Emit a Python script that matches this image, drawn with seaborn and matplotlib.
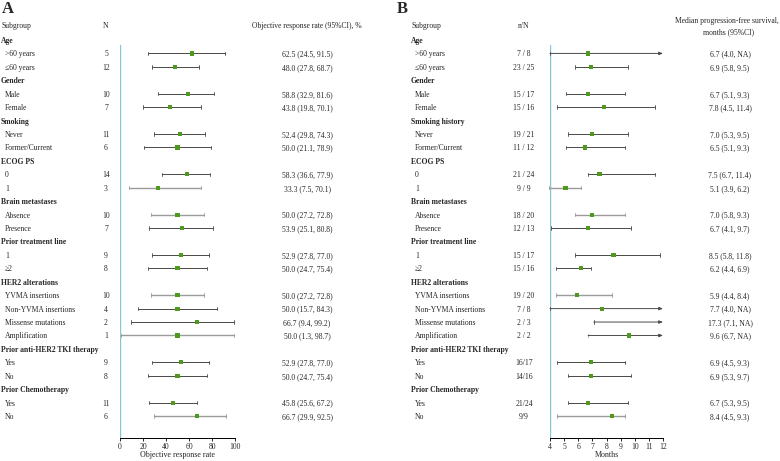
import numpy as np
import pandas as pd
import matplotlib
matplotlib.use("Agg")
import matplotlib.pyplot as plt
import matplotlib.transforms as mtrans
import seaborn as sns

sns.set_style("white")
plt.rcParams['font.family'] = ['Liberation Serif', 'DejaVu Serif']

NA = np.nan

labels_A = ["Age", ">60 years", "≤60 years", "Gender", "Male", "Female", "Smoking", "Never",
            "Former/Current", "ECOG PS", "0", "1", "Brain metastases", "Absence", "Presence",
            "Prior treatment line", "1", "≥2", "HER2 alterations", "YVMA insertions",
            "Non-YVMA insertions", "Missense mutations", "Amplification",
            "Prior anti-HER2 TKI therapy", "Yes", "No", "Prior Chemotherapy", "Yes", "No"]
labels_B = list(labels_A)
labels_B[6] = "Smoking history"
header_rows = [0, 3, 6, 9, 12, 15, 18, 23, 26]

n_A = ["", "5", "12", "", "10", "7", "", "11", "6", "", "14", "3", "", "10", "7", "", "9", "8",
       "", "10", "4", "2", "1", "", "9", "8", "", "11", "6"]
orr = [NA, 62.5, 48.0, NA, 58.8, 43.8, NA, 52.4, 50.0, NA, 58.3, 33.3, NA, 50.0, 53.9, NA, 52.9,
       50.0, NA, 50.0, 50.0, 66.7, 50.0, NA, 52.9, 50.0, NA, 45.8, 66.7]
orr_lo = [NA, 24.5, 27.8, NA, 32.9, 19.8, NA, 29.8, 21.1, NA, 36.6, 7.5, NA, 27.2, 25.1, NA, 27.8,
          24.7, NA, 27.2, 15.7, 9.4, 1.3, NA, 27.8, 24.7, NA, 25.6, 29.9]
orr_hi = [NA, 91.5, 68.7, NA, 81.6, 70.1, NA, 74.3, 78.9, NA, 77.9, 70.1, NA, 72.8, 80.8, NA, 77.0,
          75.4, NA, 72.8, 84.3, 99.2, 98.7, NA, 77.0, 75.4, NA, 67.2, 92.5]

nN_B = ["", "7 / 8", "23 / 25", "", "15 / 17", "15 / 16", "", "19 / 21", "11 / 12", "", "21 / 24",
        "9 / 9", "", "18 / 20", "12 / 13", "", "15 / 17", "15 / 16", "", "19 / 20", "7 / 8", "2 / 3",
        "2 / 2", "", "16/17", "14/16", "", "21/24", "9/9"]
pfs = [NA, 6.7, 6.9, NA, 6.7, 7.8, NA, 7.0, 6.5, NA, 7.5, 5.1, NA, 7.0, 6.7, NA, 8.5, 6.2, NA,
       5.9, 7.7, 17.3, 9.6, NA, 6.9, 6.9, NA, 6.7, 8.4]
pfs_lo = [NA, 4.0, 5.8, NA, 5.1, 4.5, NA, 5.3, 5.1, NA, 6.7, 3.9, NA, 5.8, 4.1, NA, 5.8, 4.4, NA,
          4.4, 4.0, 7.1, 6.7, NA, 4.5, 5.3, NA, 5.3, 4.5]
pfs_hi = [NA, NA, 9.5, NA, 9.3, 11.4, NA, 9.5, 9.3, NA, 11.4, 6.2, NA, 9.3, 9.7, NA, 11.8, 6.9, NA,
          8.4, NA, NA, NA, NA, 9.3, 9.7, NA, 9.5, 9.3]

ticks_A = [0, 20, 40, 60, 80, 100]
ticks_B = [4, 5, 6, 7, 8, 9, 10, 11, 12]

# style: rows drawn with light grey CI lines
light_rows = {11, 13, 19, 22, 28}

W, H = 780, 461
fig = plt.figure(figsize=(W / 100, H / 100), dpi=100)

row_px0, row_step = 40.0, 13.43
def px_to_row(py):
    return (py - row_px0) / row_step

ax_top_px, ax_bot_px = 45.0, 437.5
axA = fig.add_axes([120 / W, (H - ax_bot_px) / H, 115 / W, (ax_bot_px - ax_top_px) / H])
axB = fig.add_axes([550 / W, (H - ax_bot_px) / H, 113 / W, (ax_bot_px - ax_top_px) / H])

GREEN = "#4f9a1c"
BLUE = "#86c6da"
DARK = "#4a4a4a"
LIGHT = "#9a9a9a"
FS = 5.5


def fmt(v):
    return "NA" if np.isnan(v) else f"{v:.1f}"


def draw_panel(ax, labels, ncol, est, lo, hi, xlim, ticks, xlabel, ref):
    n = len(labels)
    ax.set_xlim(*xlim)
    ax.set_ylim(px_to_row(ax_bot_px), px_to_row(ax_top_px))
    ax.axvline(ref, color=BLUE, lw=1.0, zorder=1)
    for i in range(n):
        if i in header_rows:
            continue
        col = LIGHT if i in light_rows else DARK
        lw = 1.0 if i in light_rows else 0.7
        h = hi[i]
        if np.isnan(h):
            ax.annotate("", xy=(xlim[1], i), xytext=(lo[i], i),
                        arrowprops=dict(arrowstyle="-|>,head_length=0.22,head_width=0.09",
                                        color=DARK, lw=0.7, shrinkA=0, shrinkB=0),
                        annotation_clip=False)
            ax.plot([lo[i], lo[i]], [i - 0.12, i + 0.12], color=col, lw=0.6, clip_on=False)
        else:
            ax.plot([lo[i], h], [i, i], color=col, lw=lw, clip_on=False, zorder=2)
            for xe in (lo[i], h):
                ax.plot([xe, xe], [i - 0.13, i + 0.13], color=col, lw=0.6, clip_on=False, zorder=2)
    df = pd.DataFrame({"est": est, "row": np.arange(n)}).dropna()
    sns.scatterplot(data=df, x="est", y="row", marker="s", s=9, color=GREEN,
                    edgecolor="none", ax=ax, zorder=3, legend=False)
    ax.set_ylim(px_to_row(ax_bot_px), px_to_row(ax_top_px))
    ax.set_xlim(*xlim)
    ax.set_yticks([])
    ax.set_ylabel("")
    ax.set_xticks(ticks)
    ax.set_xticklabels([str(t) for t in ticks])
    ax.tick_params(axis="x", labelsize=FS, length=2.5, width=0.6, pad=1.5, direction="out",
                   bottom=True, color="black")
    ax.set_xlabel(xlabel, fontsize=FS + 0.3, labelpad=0)
    for s in ["top", "right", "left"]:
        ax.spines[s].set_visible(False)
    ax.spines["bottom"].set_color("black")
    ax.spines["bottom"].set_linewidth(0.7)


draw_panel(axA, labels_A, n_A, orr, orr_lo, orr_hi, (0, 100), ticks_A,
           "Objective response rate", 0)
draw_panel(axB, labels_B, nN_B, pfs, pfs_lo, pfs_hi, (4, 12), ticks_B, "Months", 4)


def ftext(ax, xpx, row, s, ha="left", bold=False, fs=FS):
    tr = mtrans.blended_transform_factory(fig.transFigure, ax.transData)
    ax.text(xpx / W, row, s, transform=tr, ha=ha, va="center_baseline", fontsize=fs,
            fontweight="bold" if bold else "normal", clip_on=False)


# Panel A texts
fig.text(2 / W, 1 - 9 / H, "A", fontsize=12, fontweight="bold", ha="left", va="center")
ftext(axA, 2, px_to_row(25), "Subgroup")
ftext(axA, 106, px_to_row(25), "N", ha="center")
ftext(axA, 307, px_to_row(25), "Objective response rate (95%CI), %", ha="center")
for i, lab in enumerate(labels_A):
    if i in header_rows:
        ftext(axA, 1, i, lab, bold=True)
    else:
        ftext(axA, 5, i, lab)
        ftext(axA, 106, i, n_A[i], ha="center")
        ftext(axA, 307, i, f"{fmt(orr[i])} ({fmt(orr_lo[i])}, {fmt(orr_hi[i])})", ha="center")

# Panel B texts
fig.text(397 / W, 1 - 9 / H, "B", fontsize=12, fontweight="bold", ha="left", va="center")
ftext(axB, 411, px_to_row(25), "Subgroup")
ftext(axB, 524, px_to_row(25), "n/N", ha="center")
ftext(axB, 727, px_to_row(20), "Median progression-free survival,", ha="center")
ftext(axB, 729, px_to_row(31), "months (95%CI)", ha="center")
for i, lab in enumerate(labels_B):
    if i in header_rows:
        ftext(axB, 411, i, lab, bold=True)
    else:
        ftext(axB, 415, i, lab)
        ftext(axB, 524, i, nN_B[i], ha="center")
        ftext(axB, 730, i, f"{fmt(pfs[i])} ({fmt(pfs_lo[i])}, {fmt(pfs_hi[i])})", ha="center")

fig.savefig("out.png", dpi=100, facecolor="white")
